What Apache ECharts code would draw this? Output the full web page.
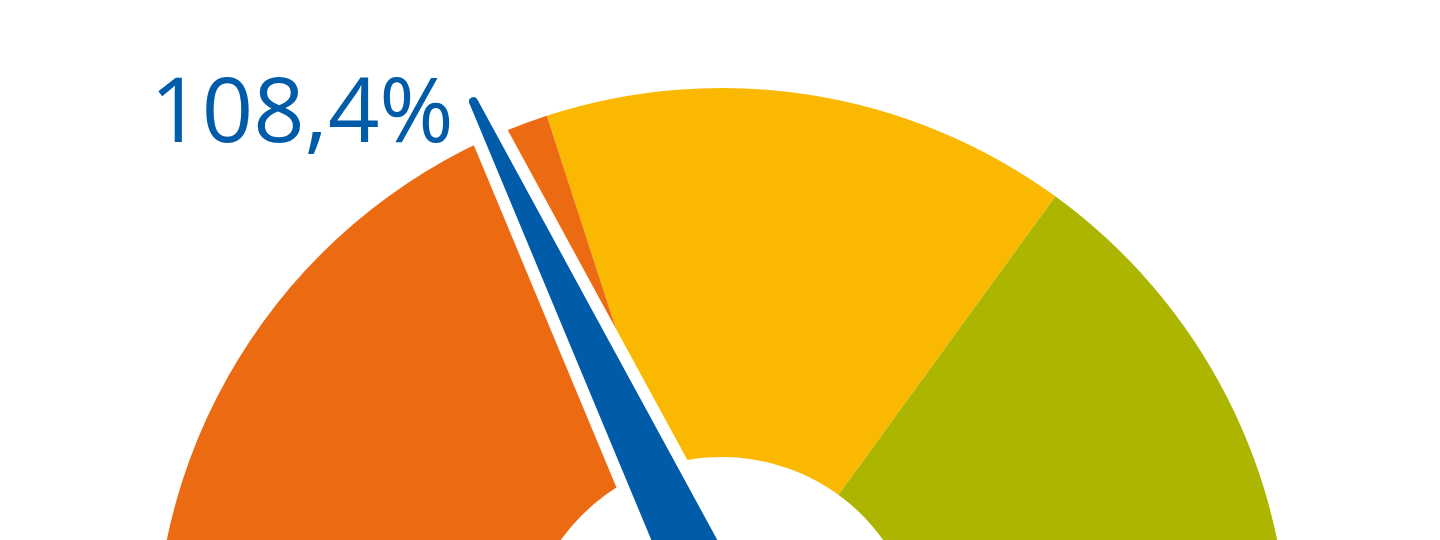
<!DOCTYPE html>
<html>
<head>
<meta charset="utf-8">
<script src="https://cdn.jsdelivr.net/npm/echarts@6/dist/echarts.min.js"></script>
<style>
html,body{margin:0;padding:0;background:#fff;}
#chart{width:1440px;height:540px;}
</style>
</head>
<body>
<div id="chart"></div>
<script>
// ---- data ----
const gaugeValues = [108.4];            // needle value (%)
const axisRange = [0, 303];             // gauge scale min / max
const bandEnds = [121.2, 212.1, 303];   // value where each colour band ends
const bandNames = ['low', 'mid', 'high'];

const bandColors = ['#EC6A12', '#FAB900', '#ACB500'];

const chart = echarts.init(document.getElementById('chart'), null, {renderer: 'canvas'});
const stops = bandEnds.map((v, i) => [(v - axisRange[0]) / (axisRange[1] - axisRange[0]), bandColors[i]]);

chart.setOption({
  animation: false,
  series: [{
    type: 'gauge',
    center: [722, 655],
    radius: 567,
    startAngle: 180,
    endAngle: 0,
    min: axisRange[0],
    max: axisRange[1],
    axisLine: { lineStyle: { width: 369, color: stops } },
    splitLine: { show: false },
    axisTick: { show: false },
    axisLabel: { show: false },
    anchor: { show: false },
    title: { show: false },
    pointer: {
      icon: 'path://M31.5,11C31.5,-3.667,52.5,-3.667,52.5,11L84,617L0,617Z',
      width: 84,
      length: 617,
      offsetCenter: [15, 0],
      keepAspect: false,
      itemStyle: { color: '#005CA9', borderColor: '#ffffff', borderWidth: 12 }
    },
    detail: {
      show: true,
      offsetCenter: [-420, -539],
      color: '#005CA9',
      fontFamily: 'Open Sans',
      fontWeight: 'normal',
      fontSize: 90,
      formatter: v => v.toFixed(1).replace('.', ',') + '%'
    },
    data: gaugeValues.map(v => ({ value: v, name: 'Wert' }))
  }]
});
</script>
</body>
</html>
